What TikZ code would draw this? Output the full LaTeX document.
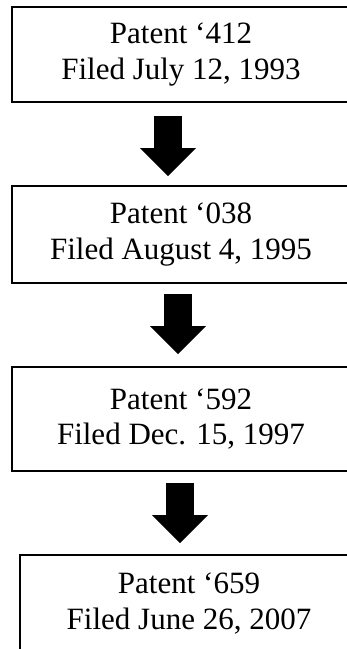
\documentclass[tikz,border=0pt]{standalone}
\usepackage{fontspec}
\setmainfont{Liberation Serif}
\usetikzlibrary{arrows.meta, positioning}

\begin{document}
\begin{tikzpicture}[
    x=1pt, y=-1pt,
    patentbox/.style={draw, line width=2.4pt, outer sep=0pt, inner sep=0pt, minimum width=338pt,
        align=center, font=\fontsize{31pt}{35.5pt}\selectfont},
    bigarrow/.style={line width=28pt, -{Triangle[width=56pt, length=28pt, line width=0pt]}},
    node distance=84pt
]
    \useasboundingbox (0,0) rectangle (346,649);

    % patent chain, top to bottom
    \node[patentbox, minimum height=95pt] (p412) at (181,54.5) {Patent ‘412\\Filed July 12, 1993};
    \node[patentbox, minimum height=97pt, below=of p412] (p038) {Patent ‘038\\Filed August 4, 1995};
    \node[patentbox, minimum height=104pt, below=of p038] (p592) {Patent ‘592\\Filed Dec. 15, 1997};
    \node[patentbox, minimum height=97pt, below=of p592, xshift=8pt] (p659) {Patent ‘659\\Filed June 26, 2007};

    % block arrows between the boxes
    \draw[bigarrow, shorten <=14pt, shorten >=10pt] ([xshift=-13pt]p412.south) -- ([xshift=-13pt]p412.south |- p038.north);
    \draw[bigarrow, shorten <=11pt, shorten >=13pt] ([xshift=-3pt]p038.south) -- ([xshift=-3pt]p038.south |- p592.north);
    \draw[bigarrow, shorten <=12pt, shorten >=12pt] ([xshift=-1pt]p592.south) -- ([xshift=-1pt]p592.south |- p659.north);
\end{tikzpicture}
\end{document}
